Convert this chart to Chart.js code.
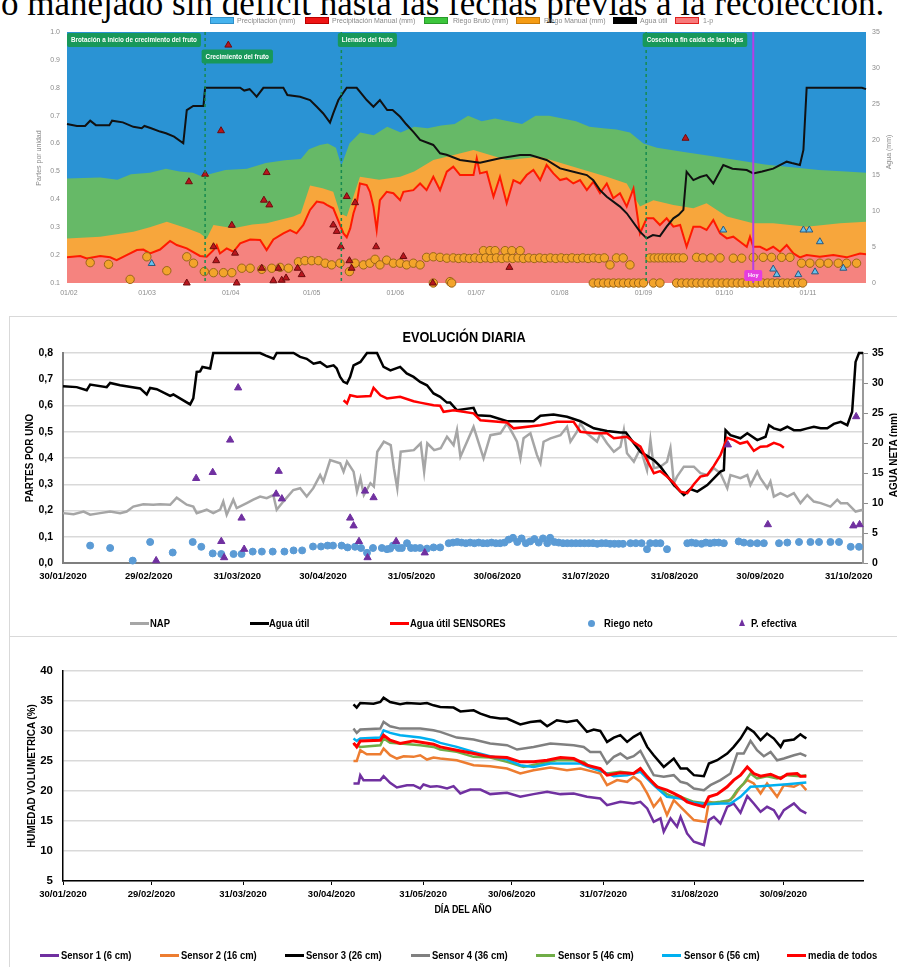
<!DOCTYPE html>
<html><head><meta charset="utf-8">
<script src="https://cdn.jsdelivr.net/npm/chart.js@4.4.1/dist/chart.umd.min.js"></script>
<style>
html,body{margin:0;padding:0;background:#fff}
body{width:897px;height:967px;overflow:hidden;position:relative}
canvas{position:absolute;left:0}
.a{position:absolute;white-space:nowrap}
.cal{font-family:'Liberation Sans',Arial,sans-serif;font-weight:bold;color:#000;font-size:11px;line-height:13px}
.sq{transform:scaleX(.86);transform-origin:0 50%}
.rot{transform:translate(-50%,-50%) rotate(-90deg) scaleX(.9)}
.sw{position:absolute;height:7px;width:24px;top:17px;box-sizing:border-box}
.lgA{position:absolute;top:16px;font:7px 'Liberation Sans',Arial,sans-serif;color:#8a8a8a;line-height:9px}
.ln{position:absolute;height:3px;width:19px}
</style></head><body>

<div class="a" style="left:1px;top:-14px;font:35px 'Liberation Serif','Times New Roman',serif;line-height:35px;color:#000">o manejado sin déficit hasta las fechas previas a la recolección.</div>

<canvas id="cA" width="897" height="300" style="top:0"></canvas>
<canvas id="cB" width="897" height="320" style="top:315px"></canvas>
<canvas id="cC" width="897" height="327" style="top:640px"></canvas>

<!-- frame -->
<div class="a" style="left:9px;top:316px;width:888px;height:1px;background:#d9d9d9"></div>
<div class="a" style="left:9px;top:316px;width:1px;height:651px;background:#d9d9d9"></div>
<div class="a" style="left:9px;top:636px;width:888px;height:1px;background:#d9d9d9"></div>

<!-- legend A -->
<div class="sw" style="left:210px;background:#45b3ee;border:1px solid #2f8fc8"></div><div class="lgA" style="left:237px">Precipitación (mm)</div>
<div class="sw" style="left:305px;background:#ee1515;border:1px solid #b00"></div><div class="lgA" style="left:332px">Precipitación Manual (mm)</div>
<div class="sw" style="left:424px;background:#3cc63c;border:1px solid #2a9a2a"></div><div class="lgA" style="left:453px">Riego Bruto (mm)</div>
<div class="sw" style="left:516px;background:#f59c14;border:1px solid #c77a08"></div><div class="lgA" style="left:544px">Riego Manual (mm)</div>
<div class="sw" style="left:613px;background:#000;border:1px solid #000"></div><div class="lgA" style="left:640px">Agua útil</div>
<div class="sw" style="left:675px;background:#f87a7a;border:1px solid #e02020"></div><div class="lgA" style="left:703px">1-p</div>
<div class="a" style="left:38px;top:158px;font:7px 'Liberation Sans',Arial,sans-serif;color:#8a8a8a;transform:translate(-50%,-50%) rotate(-90deg)">Partes por unidad</div>
<div class="a" style="left:888px;top:152px;font:7px 'Liberation Sans',Arial,sans-serif;color:#8a8a8a;transform:translate(-50%,-50%) rotate(-90deg)">Agua (mm)</div>

<!-- B texts -->
<div class="a cal" style="left:464px;top:329px;font-size:14px;line-height:16px;transform:translateX(-50%) scaleX(.91)">EVOLUCIÓN DIARIA</div>
<div class="a cal rot" style="left:29px;top:458px">PARTES POR UNO</div>
<div class="a cal rot" style="left:893px;top:455px">AGUA NETA (mm)</div>
<div class="ln" style="left:130px;top:622px;background:#a6a6a6"></div><div class="a cal sq" style="left:150px;top:617px">NAP</div>
<div class="ln" style="left:250px;top:622px;background:#000"></div><div class="a cal sq" style="left:269px;top:617px">Agua útil</div>
<div class="ln" style="left:390px;top:622px;background:#ff0000"></div><div class="a cal sq" style="left:410px;top:617px">Agua útil SENSORES</div>
<div class="a" style="left:588px;top:620px;width:7px;height:7px;border-radius:50%;background:#5b9bd5"></div><div class="a cal sq" style="left:604px;top:617px">Riego neto</div>
<div class="a" style="left:739px;top:619px;width:0;height:0;border-left:3.5px solid transparent;border-right:3.5px solid transparent;border-bottom:7px solid #7030a0"></div><div class="a cal sq" style="left:751px;top:617px">P. efectiva</div>

<!-- C texts -->
<div class="a cal rot" style="left:31px;top:776px">HUMEDAD VOLUMETRICA (%)</div>
<div class="a cal" style="left:463px;top:903px;font-size:10.5px;transform:translateX(-50%) scaleX(.85)">DÍA DEL AÑO</div>
<div class="ln" style="left:40px;top:954px;background:#7030a0"></div><div class="a cal sq" style="left:61px;top:949px">Sensor 1 (6 cm)</div>
<div class="ln" style="left:160px;top:954px;background:#ed7d31"></div><div class="a cal sq" style="left:181px;top:949px">Sensor 2 (16 cm)</div>
<div class="ln" style="left:285px;top:954px;background:#000"></div><div class="a cal sq" style="left:306px;top:949px">Sensor 3 (26 cm)</div>
<div class="ln" style="left:411px;top:954px;background:#808080"></div><div class="a cal sq" style="left:432px;top:949px">Sensor 4 (36 cm)</div>
<div class="ln" style="left:536px;top:954px;background:#70ad47"></div><div class="a cal sq" style="left:558px;top:949px">Sensor 5 (46 cm)</div>
<div class="ln" style="left:662px;top:954px;background:#00b0f0"></div><div class="a cal sq" style="left:684px;top:949px">Sensor 6 (56 cm)</div>
<div class="ln" style="left:787px;top:954px;background:#ff0000"></div><div class="a cal sq" style="left:808px;top:949px">media de todos</div>

<script>
// ================= DATA (x = day of year 2020) =================
// ---- Panel A ----
const monthTicksA = [32,61,92,122,153,183,214,245,275,306];
const monthLabelsA = ['01/02','01/03','01/04','01/05','01/06','01/07','01/08','01/09','01/10','01/11'];
const phaseDays = [31.3,82.5,133,246];
const phaseLabels = ['Brotación a inicio de crecimiento del fruto','Crecimiento del fruto','Llenado del fruto','Cosecha a fin caída de las hojas'];
const phaseRows = [0,1,0,0];
const hoyDay = 285.7;
const aguaUtilA = [[31.3,0.67],[35,0.663],[38,0.663],[39.9,0.682],[42,0.666],[47,0.666],[48,0.682],[52,0.676],[55.9,0.66],[59,0.655],[60,0.663],[62.5,0.655],[65.8,0.643],[68,0.637],[71,0.625],[74.4,0.601],[75.7,0.72],[78.1,0.735],[81.9,0.735],[82.5,0.8],[95.5,0.8],[97,0.79],[99,0.795],[100.5,0.78],[101.6,0.768],[104.1,0.8],[111.5,0.8],[113,0.774],[117.7,0.768],[121.4,0.756],[123.9,0.732],[126.3,0.708],[128.8,0.675],[130,0.708],[131.9,0.756],[135,0.8],[138.7,0.8],[142.4,0.756],[144.9,0.732],[147.3,0.756],[150,0.72],[152,0.72],[154.8,0.696],[157,0.67],[159.7,0.642],[162.2,0.613],[167.1,0.595],[169.6,0.565],[172,0.56],[177,0.541],[184.4,0.531],[191.8,0.547],[199.3,0.559],[203,0.559],[209.1,0.541],[214.1,0.511],[219,0.499],[224,0.487],[226.4,0.469],[228.9,0.433],[231.4,0.409],[236.3,0.374],[238.8,0.35],[243.7,0.284],[246.2,0.26],[248.5,0.272],[251.1,0.268],[253.6,0.302],[256.1,0.332],[258,0.344],[259.8,0.362],[261,0.499],[263.5,0.469],[266,0.48],[268.4,0.487],[270.9,0.457],[274.6,0.523],[278,0.51],[283.3,0.505],[285.7,0.493],[289,0.5],[293.1,0.51],[298.1,0.535],[300,0.53],[303,0.523],[304.3,0.577],[305.5,0.8],[326,0.8],[327.5,0.795]];
const unoMenosP = [[31.3,0.192],[36.2,0.197],[38.6,0.188],[43.6,0.197],[47.3,0.192],[49.7,0.182],[53.4,0.2],[57.2,0.218],[59.6,0.22],[62.1,0.206],[65.8,0.22],[69.5,0.251],[72,0.236],[75.7,0.224],[80.6,0.197],[83.1,0.194],[85.6,0.218],[86.8,0.236],[88,0.206],[90.5,0.224],[93,0.212],[95.5,0.242],[99.2,0.256],[102.9,0.254],[105.3,0.218],[107.8,0.256],[111.5,0.278],[114,0.29],[116.4,0.278],[118.9,0.308],[121.4,0.362],[123.9,0.392],[126.3,0.388],[127.6,0.38],[130,0.368],[132.5,0.308],[133.8,0.278],[135,0.264],[136.3,0.296],[137.5,0.35],[138.7,0.386],[139.9,0.457],[142.4,0.451],[143.6,0.427],[144.9,0.374],[146.1,0.29],[147.3,0.397],[149.8,0.427],[152.3,0.422],[154.8,0.397],[156,0.427],[159.7,0.433],[162.2,0.457],[164.6,0.433],[167.1,0.481],[169.6,0.433],[172.1,0.499],[174.5,0.517],[177,0.487],[182,0.487],[183.2,0.547],[184.4,0.493],[186.9,0.499],[189.4,0.409],[191.8,0.481],[194.3,0.386],[196.8,0.469],[199.3,0.457],[201.7,0.487],[204.2,0.505],[206.7,0.469],[209.1,0.523],[211.6,0.493],[214.1,0.469],[216.5,0.475],[219,0.457],[221.5,0.469],[224,0.433],[226.4,0.463],[228.9,0.422],[231.4,0.457],[233.8,0.404],[236.3,0.422],[238.8,0.374],[241.3,0.439],[243.7,0.278],[246.2,0.332],[248.7,0.332],[251.1,0.308],[253.6,0.332],[256.1,0.302],[258.6,0.308],[261,0.23],[263.5,0.302],[266,0.302],[268.4,0.29],[270.9,0.326],[273.4,0.278],[275.9,0.26],[278.3,0.266],[280.8,0.248],[283.3,0.23],[284.5,0.266],[285.7,0.23],[288.2,0.23],[290.7,0.218],[293.1,0.23],[295.6,0.212],[298.1,0.236],[300.6,0.206],[303,0.192],[305.5,0.2],[310.4,0.194],[315.4,0.2],[320.3,0.192],[325.3,0.206],[327.5,0.203]];
const riegoManualTopA = [[31.3,0.26],[43.6,0.266],[55.9,0.284],[62,0.3],[68.3,0.32],[75.7,0.296],[80.6,0.278],[83.1,0.26],[85.6,0.308],[93,0.296],[100,0.31],[105.3,0.314],[115.2,0.338],[118,0.35],[121.4,0.45],[126,0.44],[130,0.427],[132.5,0.35],[135,0.338],[137.5,0.41],[139.9,0.481],[147,0.47],[154.8,0.481],[160,0.5],[167.1,0.541],[172.1,0.553],[182,0.577],[194.3,0.541],[206.7,0.553],[219,0.517],[231.4,0.481],[238.8,0.457],[243.7,0.374],[248.7,0.397],[256.1,0.38],[263.5,0.368],[268.4,0.386],[275.9,0.338],[285.7,0.314],[293.1,0.314],[305.5,0.302],[317.9,0.314],[327.5,0.32]];
const riegoBrutoTopA = [[31.3,0.475],[43.6,0.478],[50,0.47],[55,0.49],[62,0.495],[68,0.51],[73,0.5],[78,0.495],[80.6,0.485],[84,0.49],[90,0.505],[98,0.51],[105,0.53],[112,0.54],[118,0.545],[121,0.58],[125,0.595],[128,0.6],[131,0.585],[133,0.52],[136,0.6],[140,0.64],[145,0.63],[150,0.66],[155,0.64],[160,0.66],[165,0.655],[170,0.665],[175,0.67],[180,0.7],[185,0.68],[190,0.69],[195,0.68],[200,0.67],[205,0.7],[210,0.7],[215,0.69],[220,0.68],[225,0.66],[230,0.655],[235,0.65],[240,0.64],[245,0.6],[250,0.585],[260,0.57],[270,0.555],[280,0.54],[290,0.525],[300,0.515],[310,0.505],[320,0.5],[327.5,0.495]];
const precipManualA = [[91.1,0.953],[88.4,0.646],[76.5,0.463],[82.5,0.49],[105.3,0.496],[104.3,0.397],[106.3,0.38],[92.4,0.307],[85.6,0.23],[86.6,0.18],[93.6,0.207],[94.2,0.1],[75.7,0.1],[103.5,0.153],[109.7,0.153],[107.8,0.108],[110.9,0.11],[112.5,0.118],[116.8,0.153],[118.3,0.13],[130,0.308],[131.3,0.285],[132.8,0.23],[135,0.41],[138.1,0.388],[136,0.18],[136.8,0.153],[145.9,0.23],[156,0.195],[166.9,0.1],[195.3,0.156],[260.6,0.619]];
const precipA = [[62.7,0.17],[274.6,0.29],[304.3,0.29],[306.5,0.29],[310.4,0.248],[293.1,0.15],[294.4,0.13],[302.4,0.13],[308.6,0.14],[319.1,0.153]];
const riegoManualA = [[39.9,0.173],[46.7,0.167],[54.7,0.113],[60.9,0.194],[68.3,0.144],[75.7,0.194],[78.2,0.171],[82.2,0.141],[85.6,0.137],[89.3,0.137],[92.4,0.137],[96.1,0.153],[99.2,0.153],[103.5,0.149],[107.2,0.153],[110.3,0.156],[113.4,0.153],[117.1,0.176],[119.5,0.18],[122,0.18],[124.5,0.18],[127,0.171],[129.4,0.165],[132.5,0.171],[136,0.141],[138.1,0.171],[141.2,0.165],[143.6,0.171],[145.5,0.185],[147.3,0.165],[149.8,0.182],[152.3,0.171],[154.8,0.171],[157.2,0.165],[159.7,0.171],[162.2,0.165],[164.6,0.192],[167.1,0.194],[169.6,0.192],[172.1,0.189],[167.1,0.1],[173.3,0.105],
[174.5,0.19],[176.5,0.188],[178.5,0.19],[180.5,0.188],[182.5,0.19],[184.5,0.188],[185.7,0.216],[186.5,0.19],[188.1,0.216],[188.5,0.188],[190,0.216],[190.5,0.19],[192.5,0.188],[193.7,0.216],[194.5,0.19],[196.2,0.216],[196.5,0.188],[198.5,0.19],[199.3,0.216],[200.5,0.188],[202.5,0.19],[204.5,0.188],[206.5,0.19],[208.5,0.188],[210.5,0.19],[212.5,0.188],[214.5,0.19],[216.5,0.188],[218.5,0.19],[220.5,0.188],[222.5,0.19],[224.5,0.188],[226.5,0.19],[228.5,0.188],[230.5,0.19],[232.6,0.165],[235,0.19],[237.5,0.19],[240,0.165],
[247.4,0.19],[249,0.19],[250.5,0.19],[252,0.19],[253.5,0.19],[255,0.19],[256.5,0.19],[258,0.19],[259.8,0.19],[264.7,0.192],[267,0.19],[270,0.19],[273.4,0.19],[278.3,0.189],[281.4,0.189],[285.7,0.192],[289.4,0.192],[292.5,0.192],[296.2,0.192],[299.3,0.192],[303.6,0.171],[306.7,0.171],[310.4,0.171],[313.5,0.171],[317.2,0.171],[320.3,0.171],[324,0.171],
[173.9,0.1],[226.4,0.1],[228.3,0.1],[230.2,0.1],[232,0.1],[233.9,0.1],[235.8,0.1],[237.6,0.1],[239.5,0.1],[241.4,0.1],[243.2,0.1],[245,0.1],[248.7,0.1],[251.1,0.1],[257.3,0.1],[259.2,0.1],[261.1,0.1],[263,0.1],[264.8,0.1],[266.7,0.1],[268.6,0.1],[270.4,0.1],[272.3,0.1],[274.2,0.1],[276,0.1],[277.9,0.1],[279.8,0.1],[281.6,0.1],[283.5,0.1],[285.4,0.1],[287.2,0.1],[289.1,0.1],[291,0.1],[292.8,0.1],[294.7,0.1],[296.6,0.1],[298.4,0.1],[300.3,0.1],[302.2,0.1],[304,0.1]];

// ---- Panel B ----
const dateTicksB = [30,60,91,121,152,182,213,244,274,305];
const dateLabelsB = ['30/01/2020','29/02/2020','31/03/2020','30/04/2020','31/05/2020','30/06/2020','31/07/2020','31/08/2020','30/09/2020','31/10/2020'];
const napB = [[30,0.19],[33.7,0.186],[37.2,0.196],[39.5,0.184],[43,0.19],[46.5,0.196],[50,0.19],[52.3,0.196],[54.6,0.215],[58.1,0.224],[61.6,0.222],[64,0.224],[67.5,0.222],[69.8,0.249],[73.3,0.222],[75.6,0.215],[76.8,0.19],[80.3,0.203],[82.6,0.19],[85,0.203],[86.1,0.234],[87.3,0.184],[89.6,0.241],[90.8,0.209],[94.3,0.228],[96.6,0.241],[99,0.253],[101.3,0.247],[103.6,0.259],[104.8,0.203],[107.1,0.234],[110.6,0.278],[113,0.285],[115.3,0.253],[117.6,0.285],[120,0.335],[121.1,0.31],[123.5,0.392],[127,0.38],[128.2,0.348],[129.4,0.386],[131.7,0.348],[132.9,0.272],[134.1,0.323],[135.3,0.259],[137.6,0.304],[138.8,0.291],[140,0.424],[142.3,0.462],[144.7,0.449],[145.8,0.361],[147,0.285],[148.2,0.424],[152.8,0.43],[155.2,0.456],[156.4,0.348],[157.5,0.456],[159.9,0.43],[162.2,0.437],[164.4,0.481],[166.7,0.449],[167.9,0.506],[169.1,0.405],[171.4,0.462],[173.7,0.519],[176.1,0.437],[177.2,0.399],[179.6,0.487],[183.1,0.494],[185.4,0.532],[187.7,0.487],[188.9,0.462],[190.1,0.399],[191.2,0.475],[193.6,0.494],[195.9,0.411],[197.1,0.38],[198.2,0.462],[200.6,0.475],[204.1,0.487],[206.4,0.519],[207.6,0.462],[209.9,0.5],[211.1,0.532],[213.4,0.494],[216.9,0.462],[218.1,0.494],[220.4,0.456],[222.8,0.424],[225.1,0.443],[226.3,0.506],[227.4,0.418],[229.8,0.386],[232.1,0.437],[234.4,0.354],[235.6,0.468],[236.8,0.361],[239.1,0.367],[241.4,0.386],[242.6,0.437],[243.8,0.304],[244.9,0.329],[247.3,0.367],[250.8,0.367],[253.1,0.342],[255.5,0.335],[257.8,0.361],[260.1,0.342],[262.5,0.285],[263.6,0.335],[267.1,0.323],[269.5,0.335],[270.6,0.297],[273,0.348],[274.1,0.323],[276.5,0.285],[277.6,0.31],[278.8,0.253],[281.1,0.266],[283.5,0.253],[285.8,0.266],[288.1,0.228],[290.5,0.259],[292.8,0.234],[295.2,0.228],[298.6,0.215],[301,0.241],[302.2,0.228],[304.5,0.228],[307.4,0.196],[310,0.203]];
const aguaUtilB = [[30,0.673],[34.8,0.67],[38.3,0.658],[39.5,0.68],[45.3,0.67],[46.5,0.686],[50,0.677],[57,0.665],[59.3,0.642],[60.5,0.667],[62.8,0.662],[67.5,0.637],[68.6,0.642],[74.5,0.604],[75.6,0.627],[76.8,0.728],[78,0.73],[78.8,0.747],[81.5,0.741],[82.6,0.8],[99,0.8],[101,0.79],[103.7,0.778],[104.8,0.8],[110.7,0.8],[113,0.785],[115.3,0.778],[117.7,0.759],[120,0.765],[122.4,0.747],[124.7,0.753],[125.8,0.741],[127,0.709],[128.2,0.69],[129.4,0.684],[130.5,0.709],[131.7,0.753],[134.1,0.766],[136.4,0.8],[139.9,0.8],[142.2,0.747],[144.6,0.734],[148,0.747],[150.3,0.722],[152.7,0.709],[155,0.69],[157.4,0.677],[159.7,0.646],[162,0.633],[164.4,0.611],[165.5,0.611],[167.9,0.582],[173.7,0.591],[174.9,0.563],[179.6,0.56],[185.4,0.54],[194.7,0.54],[197.1,0.561],[201.7,0.566],[206.4,0.557],[211.1,0.54],[215.8,0.513],[220.4,0.503],[225.1,0.497],[227,0.497],[229.8,0.456],[232.1,0.424],[236.8,0.392],[239.1,0.367],[243.8,0.297],[247.3,0.259],[249.6,0.282],[252,0.272],[255.5,0.297],[260.1,0.348],[261.3,0.354],[261.9,0.506],[263.6,0.487],[267.1,0.475],[269.5,0.494],[273,0.468],[275.9,0.481],[277.1,0.525],[278.8,0.513],[281.1,0.506],[283.5,0.519],[285.8,0.506],[288.1,0.506],[290.5,0.513],[292.8,0.519],[295.2,0.513],[297.5,0.513],[299.8,0.53],[302.2,0.538],[304.5,0.525],[306.2,0.576],[307.4,0.766],[308.6,0.8],[310,0.8]];
const aguaUtilSensoresB = [[128.2,0.62],[129.4,0.608],[130.5,0.639],[132.9,0.633],[137.6,0.636],[138.7,0.667],[141.1,0.639],[143.4,0.627],[148,0.633],[152.7,0.616],[155,0.611],[159.7,0.601],[162,0.599],[163.2,0.576],[166.7,0.582],[173.7,0.57],[176.1,0.544],[185.4,0.535],[187.7,0.513],[197.1,0.525],[202.9,0.538],[208.7,0.538],[211.1,0.5],[215.8,0.494],[220.4,0.494],[222.8,0.475],[227.4,0.481],[229.8,0.46],[232.1,0.443],[234.5,0.39],[236.8,0.342],[239,0.35],[241.4,0.329],[243.8,0.304],[246.1,0.272],[248.5,0.266],[250.8,0.3],[253.1,0.329],[255.5,0.335],[257.8,0.37],[260.1,0.411],[262.5,0.477],[264.8,0.468],[267,0.455],[269.5,0.462],[271.8,0.427],[274.1,0.443],[276.5,0.445],[278.8,0.458],[281.1,0.449],[282.3,0.439]];
const riegoNetoB = [[39.5,2.9],[46.5,2.5],[54.4,0.4],[60.5,3.5],[68.4,1.75],[75.4,3.5],[78.4,2.7],[82.4,1.6],[85.4,1.5],[89.7,1.5],[92.5,1.5],[96.4,1.9],[99.6,1.9],[103.4,1.9],[107.5,1.9],[110.7,2.1],[113.7,2.1],[117.5,2.75],[120.3,2.75],[122.6,2.9],[124.5,2.9],[127.5,2.9],[129.6,2.6],[132.2,2.7],[134.3,2.5],[136.4,1.7],[138.5,2.5],[141.6,2.5],[143.4,2.3],[144.5,2.4],[145.5,2.9],[147.5,2.5],[148.6,2.5],[150.4,3.3],[151.8,2.5],[153.3,2.5],[155,2.5],[157.4,2.4],[159.7,2.6],[162,2.6],[165,3.3],[166.5,3.4],[168,3.5],[169.5,3.4],[171,3.3],[172.5,3.4],[174,3.3],[175.5,3.4],[177,3.3],[178.5,3.3],[180,3.4],[181.5,3.3],[183,3.3],[184.5,3.4],[186,3.9],[187.5,4.2],[189,3.5],[190.5,4.1],[192,3.3],[193.5,3.6],[195,4.0],[196.5,3.4],[198,4.1],[199.5,3.3],[200.5,4.2],[202,3.5],[203.5,3.4],[205,3.3],[206.5,3.3],[208,3.3],[209.5,3.3],[211,3.3],[212.5,3.3],[214,3.3],[215.5,3.3],[217,3.2],[218.5,3.3],[220,3.3],[221.5,3.2],[223,3.2],[224.5,3.2],[226,3.2],[228.6,3.3],[230.5,3.3],[232.5,3.3],[234.4,2.3],[235.5,3.3],[237.5,3.3],[239.1,3.3],[241.4,2.3],[248.5,3.3],[250,3.4],[251.5,3.3],[253.5,3.2],[255,3.4],[256.5,3.3],[258,3.4],[259.5,3.4],[261.3,3.3],[266.5,3.6],[268.3,3.4],[270.6,3.3],[273,3.3],[275.3,3.3],[280.6,3.3],[283.5,3.4],[287.6,3.5],[291.6,3.5],[294.6,3.5],[298.6,3.5],[301.6,3.5],[305.7,2.7],[308.6,2.7]];
const pEfectivaB = [[62.6,0.4],[76.6,14.1],[82.4,15.1],[85.4,3.6],[86.4,0.9],[88.5,20.5],[91.3,29.2],[92.5,7.5],[93.4,2.3],[104.6,11.5],[105.5,15.3],[106.6,10.7],[130.5,7.5],[131.7,6.2],[133.6,3.6],[135.7,12],[136.6,0.9],[138.7,10.9],[146.6,3.6],[156.6,1.7],[262.7,19.7],[276.7,6.4],[306.6,6.2],[307.6,24.4],[308.8,6.4]];

// ---- Panel C ----
const dateTicksC = [30,60,91,121,152,182,213,244,274];
const dateLabelsC = ['30/01/2020','29/02/2020','31/03/2020','30/04/2020','31/05/2020','30/06/2020','31/07/2020','31/08/2020','30/09/2020'];
const sensor1 = [[128.4,21.25],[130.1,21.25],[130.7,22.64],[131.8,21.81],[137.5,21.81],[138.6,22.47],[140.8,21.36],[143.1,20.58],[146.5,20.97],[148.7,20.97],[151,20.42],[152.1,21.08],[154.4,20.7],[156.6,20.81],[157.8,20.7],[160.1,20.42],[162.3,20.81],[164.6,19.59],[168,20.25],[171.4,20.25],[174.7,19.48],[180.4,19.7],[184.9,19.03],[189.4,19.48],[194,19.86],[198.5,19.48],[203,19.59],[207.5,19.03],[212,18.75],[214.3,17.65],[218.8,18.2],[223.3,17.92],[225.6,18.2],[227.9,17.09],[230.1,14.87],[232.4,15.43],[233.5,13.21],[235.8,15.43],[238,14.04],[239.2,15.7],[241.4,12.93],[243.7,11.54],[247.1,10.99],[248.8,15.15],[250.5,15.7],[252.7,14.59],[255,17.37],[257.2,17.92],[259.5,16.37],[261.8,19.14],[264,17.92],[266.3,16.54],[268.5,17.37],[270.8,16.81],[272.5,15.43],[274.2,16.81],[277.6,17.92],[279.8,16.81],[281.8,16.26]];
const sensor2 = [[128.4,25.02],[129.5,25.02],[130.7,26.8],[132.9,26.13],[137.5,26.13],[138.6,27.07],[140.8,25.96],[143.1,25.41],[145.4,25.8],[148.7,25.69],[151,25.96],[153.3,25.24],[155.5,25.58],[157.8,25.41],[163.4,25.13],[169.1,24.3],[174.7,24.13],[180.4,23.75],[184.9,22.91],[189.4,23.47],[195.1,23.91],[200.7,23.47],[205.3,23.75],[209.8,23.19],[212,22.91],[214.3,20.97],[217.7,21.81],[221.1,21.53],[223.3,22.36],[225.6,21.53],[227.9,19.59],[230.1,17.37],[232.4,18.76],[234.6,15.98],[236.9,18.48],[239.2,17.37],[241.4,16.26],[243.7,15.15],[247.6,14.87],[248.8,18.2],[251.6,17.92],[255,18.2],[257.2,19.03],[259.5,20.7],[261.8,21.81],[264,21.25],[266.3,19.59],[268.5,21.25],[271.9,19.03],[274.2,20.97],[277.6,20.7],[279.8,21.25],[281.8,20.14]];
const sensor3 = [[128.4,34.45],[129.5,33.9],[130.7,34.67],[135.2,34.56],[137.5,34.84],[138.6,35.56],[140.8,34.84],[144.2,34.45],[146.5,34.67],[151,34.56],[153.3,34.67],[155.5,34.28],[157.8,34.0],[162.3,33.9],[164.6,33.27],[169.1,33.45],[171.4,32.9],[174.7,32.34],[178.1,32.07],[180.4,32.07],[184.9,31.1],[188.3,31.5],[191.7,31.68],[194,30.79],[197.3,31.79],[200.7,31.5],[204.1,31.79],[207.5,29.85],[209.8,30.24],[212,30.01],[214.3,28.18],[216.6,28.9],[218.8,29.3],[221.1,28.18],[223.3,29.02],[225.6,29.68],[227.9,27.35],[230.1,25.96],[233.5,24.02],[236.9,25.41],[239.2,23.75],[241.4,23.75],[243.7,22.64],[247.1,22.47],[248.8,24.58],[251.6,25.13],[255,26.24],[257.2,27.35],[259.5,28.74],[261.8,30.57],[264,29.85],[266.3,28.46],[268.5,29.57],[270.8,28.74],[273.1,27.35],[274.2,28.35],[277.6,28.57],[279.8,29.46],[281,29.02],[281.8,28.74]];
const sensor4 = [[128.4,30.4],[129.5,29.68],[130.7,30.24],[137.5,30.4],[138.6,31.51],[140.8,30.79],[144.2,30.4],[151,30.4],[155.5,30.12],[157.8,29.85],[163.4,28.9],[169.1,28.57],[174.7,27.91],[180.4,27.63],[183.8,26.91],[189.4,27.35],[195.1,27.91],[198.5,27.8],[203,27.63],[206.4,27.35],[208.6,26.52],[212,26.52],[214.3,24.58],[216.6,25.69],[218.8,26.24],[221.1,25.41],[223.3,25.8],[225.6,26.69],[227.9,24.58],[230.1,22.64],[233.5,22.36],[236.9,22.64],[239.2,21.53],[241.4,21.25],[243.7,20.42],[247.1,20.14],[249.3,20.97],[252.7,21.81],[256.1,22.91],[258.4,26.24],[260.6,26.24],[262.9,28.35],[265.1,26.8],[267.4,25.8],[269.7,26.52],[271.9,25.13],[274.2,25.41],[277.6,25.96],[279.8,26.24],[281.8,25.8]];
const sensor5 = [[128.4,27.8],[130.7,27.35],[137.5,27.63],[138.6,28.74],[140.8,28.02],[144.2,27.91],[151,27.63],[155.5,27.35],[157.8,26.91],[163.4,26.52],[169.1,25.69],[174.7,25.58],[180.4,24.86],[186,24.02],[191.7,24.58],[197.3,25.13],[203,25.13],[206.4,24.86],[208.6,24.02],[214.3,22.91],[218.8,23.19],[223.3,22.91],[225.6,23.75],[230.1,21.25],[234.6,19.48],[236.9,19.03],[239.2,19.03],[243.7,18.2],[248.2,17.92],[252.7,18.2],[256.1,18.48],[258.4,20.14],[260.6,21.25],[262.9,22.91],[265.1,22.08],[268.5,22.47],[271.9,22.08],[275.3,22.64],[279.8,22.47],[281.8,22.64]];
const sensor6 = [[128.4,28.74],[129.5,28.35],[130.7,28.74],[137.5,28.9],[138.6,30.12],[140.8,29.68],[144.2,29.3],[151,28.9],[155.5,28.46],[157.8,28.02],[163.4,27.35],[169.1,26.52],[174.7,25.8],[180.4,25.24],[184.9,24.3],[189.4,24.02],[195.1,24.58],[200.7,24.58],[205.3,24.58],[208.6,23.91],[212,23.36],[216.6,22.47],[221.1,22.64],[225.6,23.19],[230.1,20.97],[234.6,19.03],[239.2,18.75],[243.7,18.03],[248.2,17.81],[252.7,17.92],[256.1,17.92],[259.5,19.03],[262.9,20.7],[266.3,20.81],[270.8,20.97],[275.3,21.14],[281.8,21.42]];
const mediaTodos = [[128.4,28.02],[129.5,27.35],[130.7,28.35],[137.5,28.46],[138.6,29.3],[140.8,28.46],[144.2,27.91],[148.7,28.35],[155.5,27.8],[157.8,27.35],[163.4,26.8],[169.1,26.24],[174.7,25.69],[180.4,25.58],[184.9,24.86],[189.4,24.86],[194,25.13],[198.5,25.58],[203,25.41],[207.5,24.3],[212,23.75],[214.3,22.64],[218.8,23.03],[223.3,22.91],[225.6,23.75],[227.9,22.36],[231.2,20.7],[234.6,20.14],[236.9,19.59],[239.2,19.03],[241.4,18.2],[243.7,17.81],[247.1,17.37],[248.8,19.03],[251.6,19.48],[255,20.7],[257.2,21.81],[259.5,22.64],[261.8,24.02],[264,22.91],[266.3,22.47],[269.7,22.8],[273.1,22.08],[275.3,22.8],[278.7,22.91],[279.8,22.47],[281.8,22.47]];

// ================= RENDER =================
const pts = a => a.map(([x, y]) => ({x, y}));
Chart.defaults.animation = false;
Chart.defaults.plugins.legend.display = false;
Chart.defaults.plugins.tooltip.enabled = false;
const SANS = "'Liberation Sans',Arial,sans-serif";
const lbl = (ticks, labels) => v => { const i = ticks.indexOf(v); return i >= 0 ? labels[i] : ''; };

// ---- Chart A ----
const plugA = {
  id: 'plugA',
  beforeDatasetsDraw(chart) {
    const {ctx, chartArea: a} = chart;
    ctx.save(); ctx.fillStyle = '#2a93d4'; ctx.fillRect(a.left, a.top, a.right - a.left, a.bottom - a.top); ctx.restore();
  },
  afterDatasetsDraw(chart) {
    const {ctx, chartArea: a, scales: {x}} = chart;
    ctx.save();
    phaseDays.forEach((d, i) => {
      if (i === 0) return;
      const px = x.getPixelForValue(d);
      ctx.setLineDash([3, 3]); ctx.strokeStyle = '#178a4f'; ctx.lineWidth = 1.5;
      ctx.beginPath(); ctx.moveTo(px, a.top); ctx.lineTo(px, a.bottom); ctx.stroke();
    });
    ctx.setLineDash([]);
    const hx = x.getPixelForValue(hoyDay);
    ctx.strokeStyle = '#b43fe6'; ctx.lineWidth = 2;
    ctx.beginPath(); ctx.moveTo(hx, a.top); ctx.lineTo(hx, a.bottom); ctx.stroke();
    ctx.font = "bold 6.3px " + SANS;
    ctx.textBaseline = 'middle';
    phaseDays.forEach((d, i) => {
      const px = Math.max(a.left, x.getPixelForValue(d) - 3.5);
      const tw = ctx.measureText(phaseLabels[i]).width;
      const top = a.top + 1 + phaseRows[i] * 16.5;
      ctx.fillStyle = '#18985a';
      ctx.beginPath(); ctx.roundRect(px, top, tw + 8, 14, 2); ctx.fill();
      ctx.fillStyle = '#fff'; ctx.fillText(phaseLabels[i], px + 4, top + 7.5);
    });
    ctx.fillStyle = '#e53de0';
    ctx.beginPath(); ctx.roundRect(hx - 9, a.bottom - 13, 18, 11, 2); ctx.fill();
    ctx.fillStyle = '#fff'; ctx.font = "bold 5.5px " + SANS; ctx.textAlign = 'center';
    ctx.fillText('Hoy', hx, a.bottom - 7.3);
    ctx.restore();
  }
};
const gA = {family: SANS, size: 7};
new Chart(document.getElementById('cA'), {
  type: 'line',
  data: {datasets: [
    {label: 'Precipitación (mm)', data: pts(precipA), showLine: false, pointStyle: 'triangle', pointRadius: 4, backgroundColor: '#66c2ee', borderColor: '#2b587e', pointBorderWidth: 1, order: 0, clip: false},
    {label: 'Precipitación Manual (mm)', data: pts(precipManualA), showLine: false, pointStyle: 'triangle', pointRadius: 4, backgroundColor: '#b8161d', borderColor: '#6e0c0f', pointBorderWidth: 1, order: 0, clip: false},
    {label: 'Riego Manual (mm)', data: pts(riegoManualA), showLine: false, pointStyle: 'circle', pointRadius: 4.2, backgroundColor: '#f3a42b', borderColor: '#9a6518', pointBorderWidth: 1, order: 0, clip: false},
    {label: 'Agua útil', data: pts(aguaUtilA), borderColor: '#111', borderWidth: 2, pointRadius: 0, fill: false, order: 1, clip: false},
    {label: '1-p', data: pts(unoMenosP), borderColor: '#ff1a00', borderWidth: 2, backgroundColor: '#f5837f', fill: 'start', pointRadius: 0, order: 2},
    {label: 'Riego Manual', data: pts(riegoManualTopA), borderWidth: 0, borderColor: 'rgba(0,0,0,0)', backgroundColor: '#f7a63c', fill: 'start', pointRadius: 0, order: 3},
    {label: 'Riego Bruto', data: pts(riegoBrutoTopA), borderWidth: 0, borderColor: 'rgba(0,0,0,0)', backgroundColor: '#66b967', fill: 'start', pointRadius: 0, order: 4}
  ]},
  options: {
    responsive: false, devicePixelRatio: 1,
    layout: {padding: {top: 32, left: 0, right: 0, bottom: 0}},
    scales: {
      x: {type: 'linear', min: 31.3, max: 327.5,
        afterBuildTicks: s => { s.ticks = monthTicksA.map(v => ({value: v})); },
        afterFit: s => { s.height = 17; },
        ticks: {callback: lbl(monthTicksA, monthLabelsA), autoSkip: false, maxRotation: 0, font: gA, color: '#8c8c8c', padding: 6},
        grid: {display: false, drawTicks: false}, border: {display: false}},
      y: {position: 'left', min: 0.1, max: 1.0,
        afterFit: s => { s.width = 67; },
        ticks: {stepSize: 0.1, callback: v => (Math.round(v * 10) / 10).toFixed(1), font: gA, color: '#8c8c8c', padding: 7},
        grid: {display: false, drawTicks: false}, border: {display: false}},
      y2: {position: 'right', min: 0, max: 35,
        afterFit: s => { s.width = 31; },
        ticks: {stepSize: 5, font: gA, color: '#8c8c8c', padding: 6},
        grid: {display: false, drawTicks: false}, border: {display: false}}
    }
  },
  plugins: [plugA]
});

// ---- Chart B ----
const fBx = {family: SANS, size: 9.5, weight: 'bold'};
const fBy = {family: SANS, size: 10.5, weight: 'bold'};
new Chart(document.getElementById('cB'), {
  type: 'line',
  data: {datasets: [
    {label: 'P. efectiva', data: pts(pEfectivaB), yAxisID: 'y2', showLine: false, pointStyle: 'triangle', pointRadius: 4.2, backgroundColor: '#7030a0', borderColor: '#7030a0', order: 0, clip: false},
    {label: 'Riego neto', data: pts(riegoNetoB), yAxisID: 'y2', showLine: false, pointStyle: 'circle', pointRadius: 3.5, backgroundColor: '#5b9bd5', borderColor: '#5b9bd5', order: 0, clip: false},
    {label: 'Agua útil SENSORES', data: pts(aguaUtilSensoresB), yAxisID: 'y', borderColor: '#ff0000', borderWidth: 2.5, pointRadius: 0, order: 1, clip: false},
    {label: 'Agua útil', data: pts(aguaUtilB), yAxisID: 'y', borderColor: '#000', borderWidth: 2.5, pointRadius: 0, order: 2, clip: false},
    {label: 'NAP', data: pts(napB), yAxisID: 'y', borderColor: '#a6a6a6', borderWidth: 2.5, pointRadius: 0, order: 3, clip: false}
  ]},
  options: {
    responsive: false, devicePixelRatio: 1,
    layout: {padding: {top: 38, left: 0, right: 0, bottom: 48}},
    scales: {
      x: {type: 'linear', min: 30, max: 310,
        afterBuildTicks: s => { s.ticks = dateTicksB.map(v => ({value: v})); },
        afterFit: s => { s.height = 24; },
        ticks: {callback: lbl(dateTicksB, dateLabelsB), autoSkip: false, maxRotation: 0, font: fBx, color: '#000', padding: 8},
        grid: {display: false, drawTicks: false}, border: {display: true, color: '#7f7f7f', width: 2}},
      y: {position: 'left', min: 0, max: 0.8,
        afterFit: s => { s.width = 63; },
        ticks: {stepSize: 0.1, callback: v => (Math.round(v * 10) / 10).toFixed(1).replace('.', ','), font: fBy, color: '#000', padding: 10},
        grid: {color: '#d9d9d9', lineWidth: 1.5, drawTicks: false}, border: {display: true, color: '#7f7f7f', width: 2}},
      y2: {position: 'right', min: 0, max: 35,
        afterFit: s => { s.width = 34; },
        ticks: {stepSize: 5, font: fBy, color: '#000', padding: 4},
        grid: {drawOnChartArea: false, drawTicks: true, tickLength: 5, color: '#8c8c8c'}, border: {display: true, color: '#9a9a9a', width: 2}}
    }
  }
});

// ---- Chart C ----
new Chart(document.getElementById('cC'), {
  type: 'line',
  data: {datasets: [
    {label: 'media de todos', data: pts(mediaTodos), borderColor: '#ff0000', borderWidth: 3, pointRadius: 0, order: 0},
    {label: 'Sensor 6 (56 cm)', data: pts(sensor6), borderColor: '#00b0f0', borderWidth: 2.5, pointRadius: 0, order: 1},
    {label: 'Sensor 5 (46 cm)', data: pts(sensor5), borderColor: '#70ad47', borderWidth: 2.5, pointRadius: 0, order: 2},
    {label: 'Sensor 4 (36 cm)', data: pts(sensor4), borderColor: '#808080', borderWidth: 2.5, pointRadius: 0, order: 3},
    {label: 'Sensor 3 (26 cm)', data: pts(sensor3), borderColor: '#000', borderWidth: 2.5, pointRadius: 0, order: 4},
    {label: 'Sensor 2 (16 cm)', data: pts(sensor2), borderColor: '#ed7d31', borderWidth: 2.5, pointRadius: 0, order: 5},
    {label: 'Sensor 1 (6 cm)', data: pts(sensor1), borderColor: '#7030a0', borderWidth: 2.5, pointRadius: 0, order: 6}
  ]},
  options: {
    responsive: false, devicePixelRatio: 1,
    layout: {padding: {top: 31, left: 0, right: 34, bottom: 66}},
    scales: {
      x: {type: 'linear', min: 30, max: 301,
        afterBuildTicks: s => { s.ticks = dateTicksC.map(v => ({value: v})); },
        afterFit: s => { s.height = 20; },
        ticks: {callback: lbl(dateTicksC, dateLabelsC), autoSkip: false, maxRotation: 0, font: fBx, color: '#000', padding: 4},
        grid: {drawOnChartArea: false, drawTicks: true, tickLength: 4, color: '#000'}, border: {display: true, color: '#000', width: 1.5}},
      y: {position: 'left', min: 5, max: 40,
        afterFit: s => { s.width = 63; },
        ticks: {stepSize: 5, font: {family: SANS, size: 11.5, weight: 'bold'}, color: '#000', padding: 10},
        grid: {color: '#d9d9d9', lineWidth: 1.5, drawTicks: false}, border: {display: true, color: '#000', width: 1.5}}
    }
  }
});
</script>
</body></html>
